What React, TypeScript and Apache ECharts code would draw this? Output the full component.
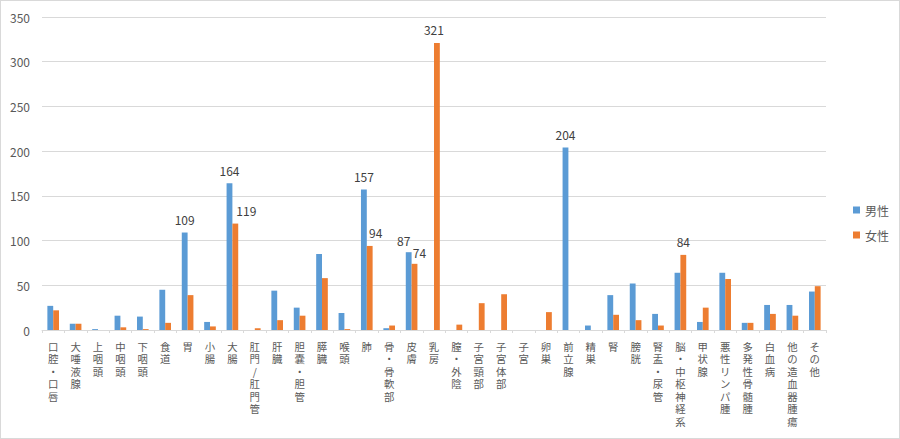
import React, { useEffect, useRef } from "react";
import * as echarts from "echarts";

const categories = [
  "口腔・口唇", "大唾液腺", "上咽頭", "中咽頭", "下咽頭", "食道", "胃", "小腸", "大腸",
  "肛門/肛門管", "肝臓", "胆嚢・胆管", "膵臓", "喉頭", "肺", "骨・骨軟部", "皮膚", "乳房",
  "膣・外陰", "子宮頸部", "子宮体部", "子宮", "卵巣", "前立腺", "精巣", "腎", "膀胱",
  "腎盂・尿管", "脳・中枢神経系", "甲状腺", "悪性リンパ腫", "多発性骨髄腫", "白血病",
  "他の造血器腫瘍", "その他",
];

const male = [
  27, 7, 1, 16, 15, 45, 109, 9, 164,
  0, 44, 25, 85, 19, 157, 2, 87, 0,
  0, 0, 0, 0, 0, 204, 5, 39, 52,
  18, 64, 9, 64, 8, 28,
  28, 43,
];

const female = [
  22, 7, 0, 3, 1, 8, 39, 4, 119,
  2, 11, 16, 58, 1, 94, 5, 74, 321,
  6, 30, 40, 0, 20, 0, 0, 17, 11,
  5, 84, 25, 57, 8, 18,
  16, 49,
];

const maleLabeled = ["胃", "大腸", "肺", "皮膚", "前立腺"];
const femaleLabeled = ["大腸", "肺", "皮膚", "乳房", "脳・中枢神経系"];

const maleLabelOffset: Record<string, number[]> = { "皮膚": [-5, 1] };
const femaleLabelOffset: Record<string, number[]> = {
  "大腸": [11, 0],
  "肺": [6, 0],
  "皮膚": [5, 2],
  "乳房": [-3, 0],
};

const FONT = "'Noto Sans CJK JP', 'Noto Sans', sans-serif";

function buildData(values: number[], labeled: string[], offsets: Record<string, number[]>) {
  return values.map((v, i) => {
    const name = categories[i];
    if (labeled.includes(name)) {
      return {
        value: v,
        label: {
          show: true,
          position: "top",
          distance: 7,
          offset: offsets[name] || [0, 0],
          color: "#404040",
          fontSize: 12,
          fontFamily: FONT,
        },
      };
    }
    return { value: v };
  });
}

export default function App() {
  const ref = useRef<HTMLDivElement>(null);
  useEffect(() => {
    if (!ref.current) return;
    const chart = echarts.init(ref.current, undefined, { renderer: "svg" });
    chart.setOption({
      animation: false,
      textStyle: { fontFamily: FONT },
      grid: { left: 41, right: 73, top: 16, bottom: 108, containLabel: false },
      legend: {
        orient: "vertical",
        left: 847,
        top: 198,
        itemWidth: 7,
        itemHeight: 7,
        itemGap: 13,
        icon: "rect",
        textStyle: { color: "#595959", fontSize: 12, fontFamily: FONT },
        data: ["男性", "女性"],
      },
      xAxis: {
        type: "category",
        data: categories,
        axisLine: { lineStyle: { color: "#D9D9D9" } },
        axisTick: { show: true, length: 3, lineStyle: { color: "#D9D9D9" } },
        axisLabel: {
          interval: 0,
          margin: 10,
          color: "#595959",
          fontSize: 10.4,
          lineHeight: 12.5,
          fontFamily: FONT,
          verticalAlign: "top",
          formatter: (v: string) => Array.from(v).join("\n"),
        },
      },
      yAxis: {
        type: "value",
        min: 0,
        max: 350,
        interval: 50,
        axisLine: { show: false },
        axisTick: { show: false },
        splitLine: { lineStyle: { color: "#D9D9D9" } },
        axisLabel: { color: "#595959", fontSize: 12, margin: 12, fontFamily: FONT },
      },
      series: [
        {
          name: "男性",
          type: "bar",
          data: buildData(male, maleLabeled, maleLabelOffset),
          itemStyle: { color: "#5B9BD5" },
          barGap: "0%",
          barCategoryGap: "48%",
        },
        {
          name: "女性",
          type: "bar",
          data: buildData(female, femaleLabeled, femaleLabelOffset),
          itemStyle: { color: "#ED7D31" },
          barGap: "0%",
          barCategoryGap: "48%",
        },
      ],
    });
    return () => chart.dispose();
  }, []);
  return (
    <div
      ref={ref}
      style={{
        position: "fixed",
        left: 0,
        top: 0,
        width: 900,
        height: 439,
        boxSizing: "border-box",
        border: "1px solid #D9D9D9",
        background: "#fff",
      }}
    />
  );
}
